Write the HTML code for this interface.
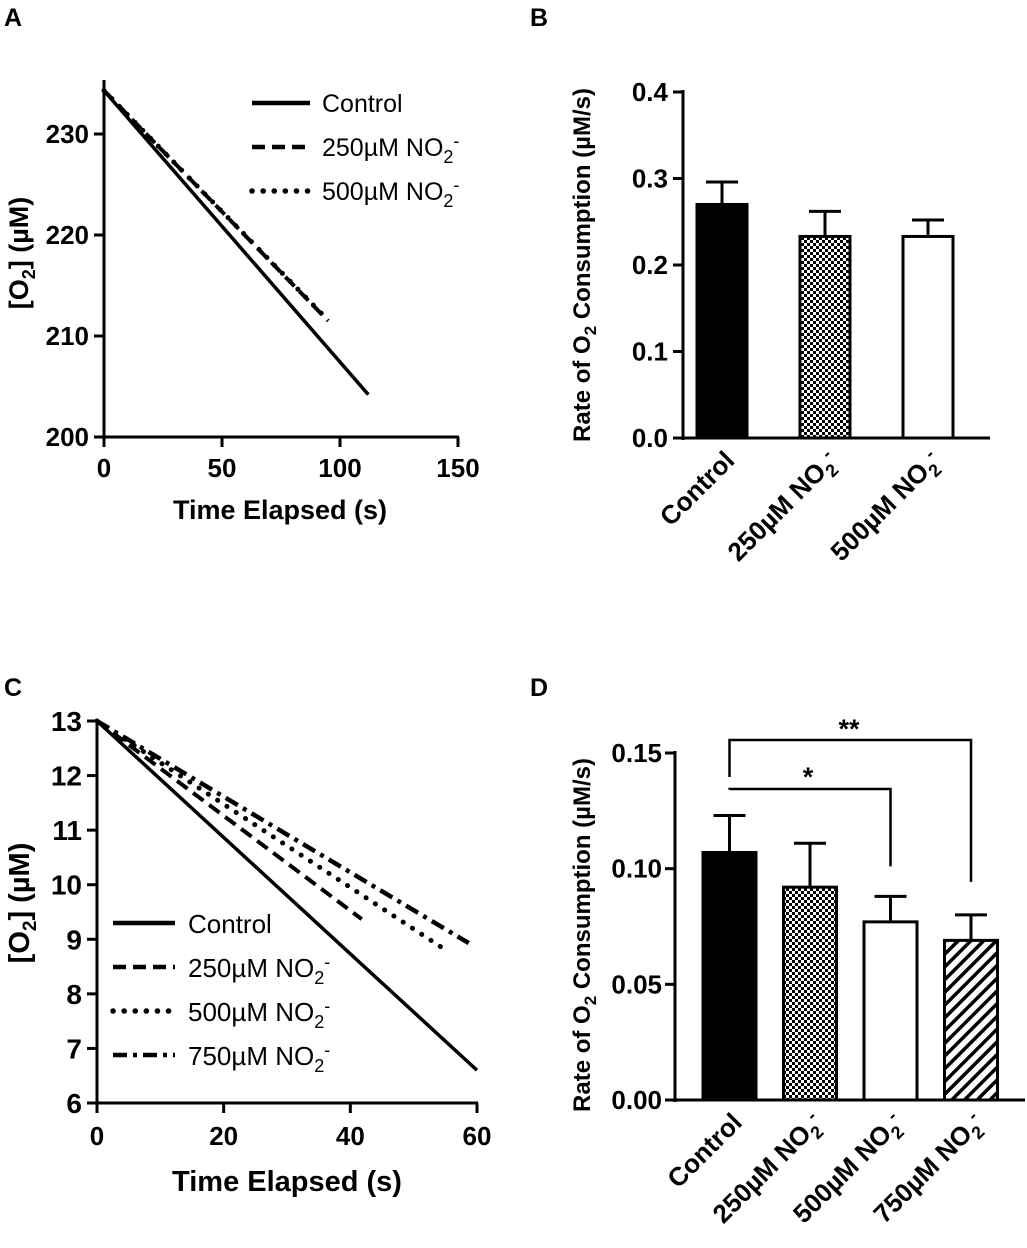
<!DOCTYPE html>
<html><head><meta charset="utf-8"><style>
html,body{margin:0;padding:0;background:#fff}
svg{display:block}
text{font-family:"Liberation Sans",Arial,sans-serif;fill:#000}
.tk{font-weight:bold;font-size:26px}
.ti{font-weight:bold;font-size:27px}
.yt{font-weight:bold;font-size:24px}
.xl{font-weight:bold;font-size:26px}
.lg{font-size:25px}
.pl{font-weight:bold;font-size:25px}
</style></head><body>
<svg id="s" width="1027" height="1248" viewBox="0 0 1027 1248">
<defs>
<pattern id="chk" width="6" height="6" patternUnits="userSpaceOnUse"><rect width="6" height="6" fill="#fff"/><rect width="3" height="3" fill="#000"/><rect x="3" y="3" width="3" height="3" fill="#000"/></pattern>
<pattern id="hat" width="9" height="9" patternUnits="userSpaceOnUse" patternTransform="rotate(45)"><rect width="9" height="9" fill="#fff"/><rect width="3.5" height="9" fill="#000"/></pattern>
</defs>
<g id="root"></g>
</svg>
<script>
// ---- Panel A data ----
const aSeries = ['Control','250µM NO2-','500µM NO2-'];
const aStart = [234.3, 234.3, 234.3];
const aEndT = [112, 95, 94];
const aEndV = [204.2, 211.5, 211.8];
const aYTicks = [200,210,220,230];
const aXTicks = [0,50,100,150];
// ---- Panel B data ----
const bCats = ['Control','250µM NO2-','500µM NO2-'];
const bVals = [0.27, 0.233, 0.233];
const bErr = [0.296, 0.262, 0.252];
const bYTicks = ['0.0','0.1','0.2','0.3','0.4'];
// ---- Panel C data ----
const cSeries = ['Control','250µM NO2-','500µM NO2-','750µM NO2-'];
const cStart = [13, 13, 13, 13];
const cEndT = [60, 41.8, 54.3, 58.7];
const cEndV = [6.6, 9.37, 8.86, 8.93];
const cYTicks = [6,7,8,9,10,11,12,13];
const cXTicks = [0,20,40,60];
// ---- Panel D data ----
const dCats = ['Control','250µM NO2-','500µM NO2-','750µM NO2-'];
const dVals = [0.107, 0.092, 0.077, 0.069];
const dErr = [0.123, 0.111, 0.088, 0.080];
const dYTicks = ['0.00','0.05','0.10','0.15'];

const NS='http://www.w3.org/2000/svg';
const root=document.getElementById('root');
function mk(tag,attrs,parent){const e=document.createElementNS(NS,tag);for(const k in attrs)e.setAttribute(k,attrs[k]);(parent||root).appendChild(e);return e;}
function line(x1,y1,x2,y2,w,dash,parent){const l=mk('line',{x1,y1,x2,y2,stroke:'#000','stroke-width':w||3},parent);if(dash){l.setAttribute('stroke-dasharray',dash);}return l;}
function txt(x,y,s,cls,anchor,parent){const t=mk('text',{x,y,class:cls,'text-anchor':anchor||'start'},parent);t.textContent=s;return t;}
function no2(t,label,sz){const base=label.replace('NO2-','');t.textContent=base+'NO';const s1=mk('tspan',{'font-size':sz||'18','dy':'7'},t);s1.textContent='2';const s2=mk('tspan',{'font-size':sz||'18','dy':'-16'},t);s2.textContent='-';}
const dashes=[null,'13,7','0.1,11','14,6,4,6'];
const caps=['butt','butt','round','butt'];
const widths=[3.5,4,5,4.5];

// Panel labels
[['A',4,26],['B',530,26],['C',4,696],['D',530,696]].forEach(p=>{const t=txt(p[1],p[2],p[0],'pl');});

// ===== Panel A =====
const gA=mk('g',{});


const aX=v=>104+v*(354/150), aY=v=>437-(v-200)*(303/30);
line(104,80,104,439,3,null,gA);line(102,437,459,437,3,null,gA);
aYTicks.forEach(v=>{line(94,aY(v),104,aY(v),3,null,gA);const t=txt(89,aY(v)+9,String(v),'tk','end',gA);});
aXTicks.forEach(v=>{line(aX(v),437,aX(v),447,3,null,gA);const t=txt(aX(v),477,String(v),'tk','middle',gA);});
for(let i=aSeries.length-1;i>=0;i--){const l=line(aX(0),aY(aStart[i]),aX(aEndT[i]),aY(aEndV[i]),widths[i],dashes[i],gA);l.setAttribute('stroke-linecap',caps[i]);}
let t=txt(280,519,'Time Elapsed (s)','ti','middle',gA);
t=mk('text',{x:0,y:0,class:'ti','text-anchor':'middle',transform:'translate(28,253) rotate(-90)'},gA);t.textContent='[O';let ts=mk('tspan',{'font-size':'18',dy:'7'},t);ts.textContent='2';ts=mk('tspan',{dy:'-7'},t);ts.textContent='] (µM)';

aSeries.forEach((s,i)=>{const y=103+i*44;const l=line(252,y,310,y,4.5,dashes[i],gA);l.setAttribute('stroke-linecap',caps[i]);if(i==2)l.setAttribute('stroke-width',5.5);const tt=txt(322,y+9,s,'lg','start',gA);if(i>0)no2(tt,s);});

// ===== Panel B =====
const gB=mk('g',{});


const bY=v=>438-v*(346/0.4);
line(683,90,683,440,3,null,gB);line(681,438,990,438,3,null,gB);
bYTicks.forEach(s=>{const v=parseFloat(s);line(673,bY(v),683,bY(v),3,null,gB);const tt=txt(668,bY(v)+9,s,'tk','end',gB);});
const bFill=['#000','url(#chk)','#fff'];
bCats.forEach((c,i)=>{const x=697+i*103,cx=x+25;
 line(cx,bY(bErr[i]),cx,bY(bVals[i]),3,null,gB);line(cx-16,bY(bErr[i]),cx+16,bY(bErr[i]),3,null,gB);
 const r=mk('rect',{x:x,y:bY(bVals[i]),width:50,height:438-bY(bVals[i]),fill:bFill[i],stroke:'#000','stroke-width':3},gB);
 
 const tt=mk('text',{x:0,y:0,class:'xl','text-anchor':'end',transform:`translate(${cx+14},${462}) rotate(-45)`},gB);
 if(i>0)no2(tt,c);else tt.textContent=c;
 });
t=mk('text',{x:0,y:0,class:'yt','text-anchor':'middle',transform:'translate(590,265) rotate(-90)'},gB);t.textContent='Rate of O';ts=mk('tspan',{'font-size':'17',dy:'6'},t);ts.textContent='2';ts=mk('tspan',{dy:'-6'},t);ts.textContent=' Consumption (µM/s)';


// ===== Panel C =====
const gC=mk('g',{});


const cX=v=>97+v*(380/60), cY=v=>1103-(v-6)*(382/7);
line(97,719,97,1105,3,null,gC);line(95,1103,478,1103,3,null,gC);
cYTicks.forEach(v=>{line(87,cY(v),97,cY(v),3,null,gC);const tt=txt(82,cY(v)+10,String(v),'tk','end',gC);tt.style.fontSize='28px';});
cXTicks.forEach(v=>{line(cX(v),1103,cX(v),1113,3,null,gC);const tt=txt(cX(v),1145,String(v),'tk','middle',gC);});
for(let i=cSeries.length-1;i>=0;i--){const l=line(cX(0),cY(cStart[i]),cX(cEndT[i]),cY(cEndV[i]),widths[i],dashes[i],gC);l.setAttribute('stroke-linecap',caps[i]);}
t=txt(287,1191,'Time Elapsed (s)','ti','middle',gC);t.style.fontSize='29px';
t=mk('text',{x:0,y:0,class:'ti','text-anchor':'middle',transform:'translate(29,903) rotate(-90)'},gC);t.style.fontSize='29px';t.textContent='[O';ts=mk('tspan',{'font-size':'19',dy:'7'},t);ts.textContent='2';ts=mk('tspan',{dy:'-7'},t);ts.textContent='] (µM)';

cSeries.forEach((s,i)=>{const y=923+i*44;const l=line(113,y,175,y,4.5,dashes[i],gC);l.setAttribute('stroke-linecap',caps[i]);if(i==2)l.setAttribute('stroke-width',5.5);const tt=txt(188,y+10,s,'lg','start',gC);tt.style.fontSize='26px';if(i>0)no2(tt,s);});

// ===== Panel D =====
const gD=mk('g',{});


const dY=v=>1100-v*(347/0.15);
line(675,751,675,1102,3,null,gD);line(673,1100,1025,1100,3,null,gD);
dYTicks.forEach(s=>{const v=parseFloat(s);line(665,dY(v),675,dY(v),3,null,gD);const tt=txt(662,dY(v)+9,s,'tk','end',gD);});
const dFill=['#000','url(#chk)','#fff','url(#hat)'];
const dCx=[];
dCats.forEach((c,i)=>{const x=703+i*80.5,cx=x+26.5;dCx.push(cx);
 line(cx,dY(dErr[i]),cx,dY(dVals[i]),3,null,gD);line(cx-16,dY(dErr[i]),cx+16,dY(dErr[i]),3,null,gD);
 const r=mk('rect',{x:x,y:dY(dVals[i]),width:53,height:1100-dY(dVals[i]),fill:dFill[i],stroke:'#000','stroke-width':3},gD);
 
 const tt=mk('text',{x:0,y:0,class:'xl','text-anchor':'end',transform:`translate(${cx+14},${1124}) rotate(-45)`},gD);
 if(i>0)no2(tt,c);else tt.textContent=c;
 });
const br1=mk('polyline',{points:`${dCx[0]},${dY(dErr[0])-26} ${dCx[0]},789 ${dCx[2]},789 ${dCx[2]},${dY(dErr[2])-30}`,fill:'none',stroke:'#000','stroke-width':2.5},gD);

const br2=mk('polyline',{points:`${dCx[0]},777 ${dCx[0]},740 ${dCx[3]},740 ${dCx[3]},${dY(dErr[3])-33}`,fill:'none',stroke:'#000','stroke-width':2.5},gD);

t=txt(808,786,'*','ti','middle',gD);
t=txt(849,738,'**','ti','middle',gD);
t=mk('text',{x:0,y:0,class:'yt','text-anchor':'middle',transform:'translate(590,935) rotate(-90)'},gD);t.textContent='Rate of O';ts=mk('tspan',{'font-size':'17',dy:'6'},t);ts.textContent='2';ts=mk('tspan',{dy:'-6'},t);ts.textContent=' Consumption (µM/s)';

</script>
</body></html>
